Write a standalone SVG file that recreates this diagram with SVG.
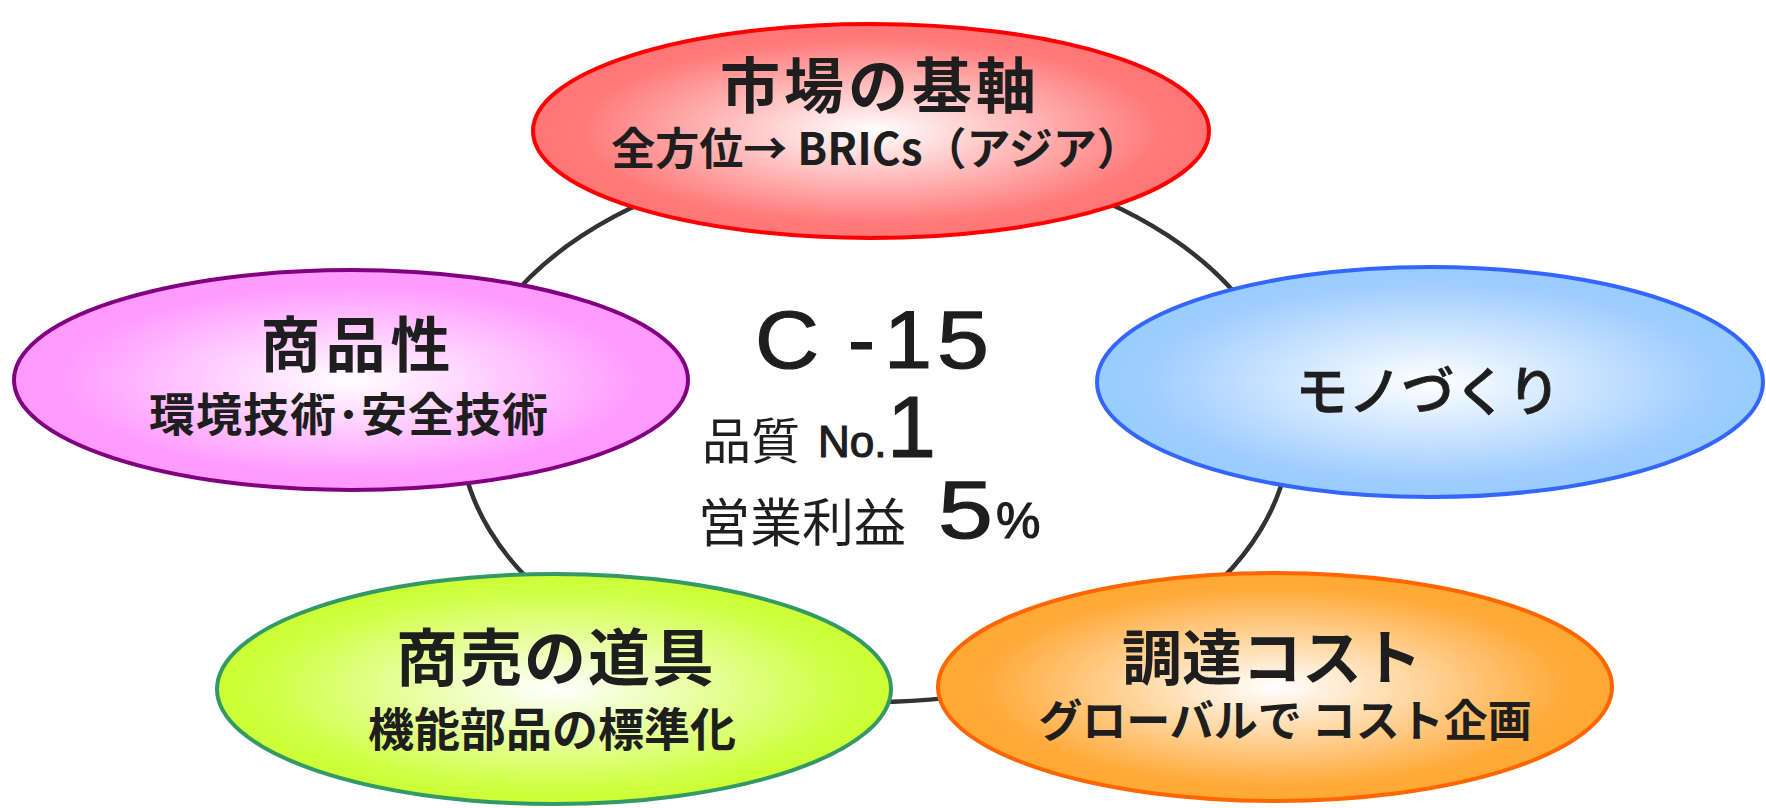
<svg xmlns="http://www.w3.org/2000/svg" width="1766" height="808" viewBox="0 0 1766 808">
<defs>
<radialGradient id="gRed" cx="0.5" cy="0.5" r="0.5"><stop offset="0" stop-color="#ffffff"/><stop offset="0.85" stop-color="#ff7b7b"/><stop offset="1" stop-color="#ff7575"/></radialGradient>
<radialGradient id="gPink" cx="0.5" cy="0.5" r="0.5"><stop offset="0" stop-color="#ffffff"/><stop offset="0.85" stop-color="#ff9cff"/><stop offset="1" stop-color="#ff99ff"/></radialGradient>
<radialGradient id="gBlue" cx="0.5" cy="0.5" r="0.5"><stop offset="0" stop-color="#ffffff"/><stop offset="0.85" stop-color="#9fcdff"/><stop offset="1" stop-color="#99ccff"/></radialGradient>
<radialGradient id="gGreen" cx="0.5" cy="0.5" r="0.5"><stop offset="0" stop-color="#ffffff"/><stop offset="0.85" stop-color="#d0ff44"/><stop offset="1" stop-color="#ccff33"/></radialGradient>
<radialGradient id="gOrange" cx="0.5" cy="0.5" r="0.5"><stop offset="0" stop-color="#ffffff"/><stop offset="0.85" stop-color="#ffab3c"/><stop offset="1" stop-color="#ffa833"/></radialGradient>
</defs>
<style>
.ring{fill:none;stroke:#333333;stroke-width:4.5}
.node{stroke-width:4}
.t{font-family:"Noto Sans CJK JP","Liberation Sans",sans-serif;fill:#1e1e1e;text-anchor:middle}
.b{font-weight:bold}
.c{font-family:"Liberation Sans","Noto Sans CJK JP",sans-serif;fill:#1e1e1e;stroke:#1e1e1e;stroke-width:1.2}
.cj{font-family:"Noto Sans CJK JP","Liberation Sans",sans-serif;fill:#1e1e1e}
</style>
<rect width="1766" height="808" fill="#ffffff"/>
<g id="connectors">
<ellipse class="ring" cx="875" cy="429" rx="415" ry="273"/>
</g>
<g id="center">
<text class="c" font-size="81" y="368"><tspan x="755" textLength="64" lengthAdjust="spacingAndGlyphs">C</tspan><tspan x="848">-</tspan><tspan x="884" textLength="48" lengthAdjust="spacingAndGlyphs">1</tspan><tspan x="937" textLength="52" lengthAdjust="spacingAndGlyphs">5</tspan></text>
<text class="cj" font-size="49" x="702" y="459">品質</text>
<text class="c" font-size="44" x="818" y="457" stroke-width="0.6">No.</text>
<text class="c" font-size="88" x="887" y="457">1</text>
<text class="cj" font-size="52" x="698" y="542">営業利益</text>
<text class="c" font-size="81" x="938" y="538" textLength="55" lengthAdjust="spacingAndGlyphs">5</text>
<text class="c" font-size="50" x="996" y="538" stroke-width="0.6">%</text>
</g>
<g id="n-market">
<ellipse class="node" cx="871" cy="131" rx="338" ry="107" fill="url(#gRed)" stroke="#ff0000"/>
<text class="t b" font-size="60" x="880" y="108" letter-spacing="4">市場の基軸</text>
<text class="t b" font-size="44" x="876" y="165">全方位→ BRICs（アジア）</text>
</g>
<g id="n-product">
<ellipse class="node" cx="351" cy="380" rx="337" ry="110" fill="url(#gPink)" stroke="#800080"/>
<text class="t b" font-size="60" x="358" y="367" letter-spacing="5">商品性</text>
<text class="t b" font-size="46" x="349" y="431" letter-spacing="1">環境技術･安全技術</text>
</g>
<g id="n-mono">
<ellipse class="node" cx="1430" cy="382" rx="333" ry="115" fill="url(#gBlue)" stroke="#3366ff"/>
<text class="t" font-size="53" font-weight="500" x="1428" y="411" stroke="#1e1e1e" stroke-width="0.8">モノづくり</text>
</g>
<g id="n-tools">
<ellipse class="node" cx="554" cy="689" rx="337" ry="115" fill="url(#gGreen)" stroke="#339966"/>
<text class="t b" font-size="62" x="556" y="681" letter-spacing="2">商売の道具</text>
<text class="t b" font-size="46" x="552" y="746">機能部品の標準化</text>
</g>
<g id="n-cost">
<ellipse class="node" cx="1275" cy="687" rx="337" ry="114" fill="url(#gOrange)" stroke="#ff6600"/>
<text class="t b" font-size="60" x="1272" y="680">調達コスト</text>
<text class="t b" font-size="44" x="1285" y="737">グローバルで コスト企画</text>
</g>
</svg>
